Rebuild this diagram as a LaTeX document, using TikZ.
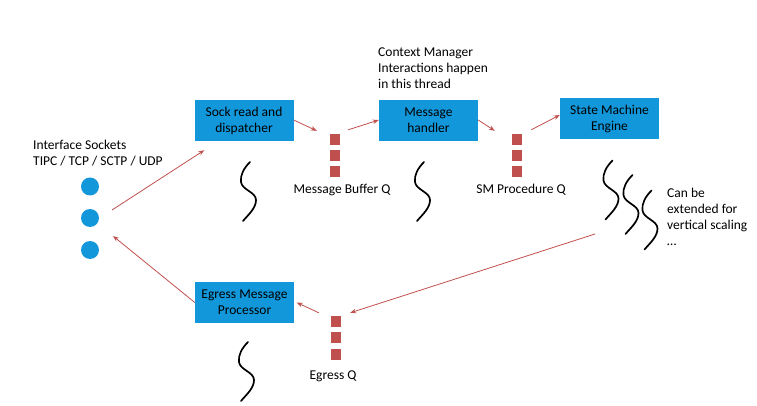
\documentclass[tikz,border=0pt]{standalone}
\usepackage{fontspec}
\setmainfont{Carlito}
\usetikzlibrary{positioning,arrows.meta}
\definecolor{boxblue}{RGB}{18,151,219}
\definecolor{qred}{RGB}{192,80,77}

\tikzset{
  stage/.style={rectangle, fill=boxblue, minimum width=99pt, minimum height=41pt, align=center, inner sep=0pt},
  qslot/.style={rectangle, fill=qred, minimum width=10pt, minimum height=11pt, inner sep=0pt},
  sockdot/.style={circle, fill=boxblue, minimum size=18pt, inner sep=0pt},
  flow/.style={draw=qred, line width=0.8pt, -{Stealth[length=6pt,width=4.5pt]}},
  note/.style={align=left, anchor=west, inner sep=0pt},
  thread/.pic={\draw[line width=1.7pt, line cap=round] (0,0) .. controls (-6,6) and (-10,13) .. (-9,20) .. controls (-8,28) and (6,30) .. (6,38) .. controls (6,46) and (-1,52) .. (-7,59);}
}

\begin{document}
\begin{tikzpicture}[x=1pt, y=-1pt, font=\fontsize{13.5}{16}\selectfont]
    \useasboundingbox (0,0) rectangle (757,406);

    % Stages (threads)
    \node[stage] (sock) at (244,120.5) {Sock read and\\dispatcher};
    \node[stage] (handler) at (428.5,120.5) {Message\\handler};
    \node[stage] (engine) at (609.5,118.5) {State Machine\\Engine};
    \node[stage] (egress) at (244.5,302.5) {Egress Message\\Processor};

    % Interface sockets
    \node[sockdot] (s1) at (90,186.5) {};
    \node[sockdot] (s2) at (90,218) {};
    \node[sockdot] (s3) at (90,250) {};
    \node[note] (socklbl) at (33,153) {Interface Sockets\\TIPC / TCP / SCTP / UDP};

    % Queues
    \node[qslot] (mb1) at (335,139.5) {};
    \node[qslot, below=4.5pt of mb1] (mb2) {};
    \node[qslot, below=4.5pt of mb2] (mb3) {};
    \node (mblbl) at (342,189.5) {Message Buffer Q};

    \node[qslot] (sm1) at (517,139.5) {};
    \node[qslot, below=4.5pt of sm1] (sm2) {};
    \node[qslot, below=4.5pt of sm2] (sm3) {};
    \node (smlbl) at (521,189.5) {SM Procedure Q};

    \node[qslot] (eq1) at (336,321.5) {};
    \node[qslot, below=5pt of eq1] (eq2) {};
    \node[qslot, below=5pt of eq2] (eq3) {};
    \node (eqlbl) at (333,376) {Egress Q};

    % Notes
    \node[note] (ctxlbl) at (378,68) {Context Manager\\Interactions happen\\in this thread};
    \node[note] (scalelbl) at (667,217) {Can be\\extended for\\vertical scaling\\\dots};

    % Arrow ends
    \coordinate (inA) at ([shift={(22,-8)}]s2.center);
    \coordinate (inB) at ([shift={(10,9)}]sock.south west);
    \coordinate (mbin) at ([shift={(-13,-3)}]mb1.north west);
    \coordinate (mbout) at ([shift={(8,-4)}]mb1.north east);
    \coordinate (smin) at ([shift={(-17,-3)}]sm1.north west);
    \coordinate (smout) at ([shift={(9,-4)}]sm1.north east);
    \coordinate (backA) at (595,234);
    \coordinate (backB) at ([shift={(9,-3)}]eq1.north east);
    \coordinate (egin) at ([shift={(-12,-3)}]eq1.north west);
    \coordinate (outB) at ([shift={(23,18)}]s2.center);

    % Flow
    \draw[flow] (inA) -- (inB);
    \draw[flow] ([yshift=0.5]sock.east) -- (mbin);
    \draw[flow] (mbout) -- ([yshift=0.5]handler.west);
    \draw[flow] ([yshift=0.5]handler.east) -- (smin);
    \draw[flow] (smout) -- ([yshift=3.5]engine.west);
    \draw[flow] (backA) -- (backB);
    \draw[flow] (egin) -- ([xshift=2.5]egress.east);
    \draw[flow] (egress.west) -- (outB);

    % Threads
    \pic at (250,162) {thread};
    \pic at (424,162) {thread};
    \pic at (248,342) {thread};
    \pic at (612.5,160.5) {thread};
    \pic at (632.5,175) {thread};
    \pic at (651.5,190.5) {thread};
\end{tikzpicture}
\end{document}
